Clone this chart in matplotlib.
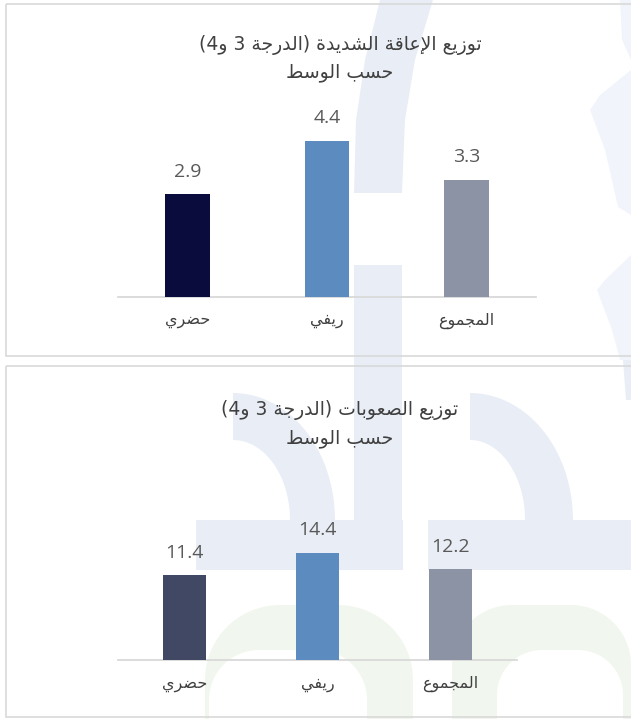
import numpy as np
import matplotlib
matplotlib.use("Agg")
import matplotlib.pyplot as plt
from matplotlib.patches import Polygon, Rectangle

plt.rcParams.update({"font.family": ["DejaVu Sans"]})

# ---- data ----
categories = ["حضري", "ريفي", "المجموع"]
severe_vals = [2.9, 4.4, 3.3]
difficulty_vals = [11.4, 14.4, 12.2]
title_severe = ["توزيع الإعاقة الشديدة (الدرجة 3 و4)", "حسب الوسط"]
title_difficulty = ["توزيع الصعوبات (الدرجة 3 و4)", "حسب الوسط"]

colors_top = ["#0B0C3E", "#5B8BBF", "#8B93A4"]
colors_bot = ["#404863", "#5B8BBF", "#8B93A4"]

W, H = 631, 719

# ---- minimal Arabic shaping (presentation forms) + RTL ordering ----
# letter -> (isolated form code, dual joining?)
AR = {
    "ا": (0xFE8D, False), "إ": (0xFE87, False), "ب": (0xFE8F, True),
    "ة": (0xFE93, False), "ت": (0xFE95, True), "ج": (0xFE9D, True),
    "ح": (0xFEA1, True), "د": (0xFEA9, False), "ر": (0xFEAD, False),
    "ز": (0xFEAF, False), "س": (0xFEB1, True), "ش": (0xFEB5, True),
    "ص": (0xFEB9, True), "ض": (0xFEBD, True), "ط": (0xFEC1, True),
    "ع": (0xFEC9, True), "ف": (0xFED1, True), "ق": (0xFED5, True),
    "ل": (0xFEDD, True), "م": (0xFEE1, True), "و": (0xFEED, False),
    "ي": (0xFEF1, True),
}
LAMALEF = {"ا": 0xFEFB, "إ": 0xFEF9}


def shape(text):
    toks = []
    i = 0
    while i < len(text):
        c = text[i]
        if c == "ل" and i + 1 < len(text) and text[i + 1] in LAMALEF:
            toks.append(("LA", LAMALEF[text[i + 1]]))
            i += 2
        else:
            toks.append((c, None))
            i += 1

    def info(t):
        if t[0] == "LA":
            return (t[1], False)
        return AR.get(t[0])

    out = []
    for k, t in enumerate(toks):
        inf = info(t)
        if inf is None:
            out.append(t[0])
            continue
        base, dual = inf
        prev = info(toks[k - 1]) if k > 0 else None
        nxt = info(toks[k + 1]) if k + 1 < len(toks) else None
        jp = prev is not None and prev[1]
        jn = dual and nxt is not None
        if jp and jn:
            code = base + 3
        elif jp:
            code = base + 1
        elif jn:
            code = base + 2
        else:
            code = base
        out.append(chr(code))

    # visual order: reverse, keep digit runs left-to-right, mirror parens
    runs, cur, isdig = [], "", None
    for ch in out:
        d = ch.isdigit() or (ch == "." and isdig)
        if isdig is None or d == isdig:
            cur += ch
        else:
            runs.append((cur, isdig))
            cur = ch
        isdig = d
    runs.append((cur, isdig))
    mirror = {"(": ")", ")": "("}
    vis = ""
    for r, d in reversed(runs):
        vis += r if d else "".join(mirror.get(c, c) for c in reversed(r))
    return vis


fig = plt.figure(figsize=(W / 100, H / 100), dpi=100)

# ---- background watermark (pixel coords) ----
bg = fig.add_axes([0, 0, 1, 1])
bg.set_xlim(0, W)
bg.set_ylim(H, 0)
bg.axis("off")
blue = "#E9EEF6"
blue2 = "#F1F5FB"
green = "#F1F7EE"


def qring(cx, cy, ao, bo, ai, bi):
    t = np.linspace(-np.pi / 2, 0, 40)
    outer = np.c_[cx + ao * np.cos(t), cy + bo * np.sin(t)]
    inner = np.c_[cx + ai * np.cos(t[::-1]), cy + bi * np.sin(t[::-1])]
    return np.vstack([outer, inner])


def arch(x0, x1, top, bottom, r):
    t = np.linspace(np.pi, 1.5 * np.pi, 30)
    left = np.c_[x0 + r + r * np.cos(t), top + r + r * np.sin(t)]
    t2 = np.linspace(1.5 * np.pi, 2 * np.pi, 30)
    right = np.c_[x1 - r + r * np.cos(t2), top + r + r * np.sin(t2)]
    return np.vstack([[x0, bottom], left, right, [x1, bottom]])


shapes = [
    (np.array([[380, 0], [433, 0], [415, 60], [405, 120], [402, 193],
               [354, 193], [356, 120], [365, 60]]), blue),
    (np.array([[354, 265], [402, 265], [402, 570], [354, 570]]), blue),
    (np.array([[196, 520], [403, 520], [403, 570], [196, 570]]), blue),
    (np.array([[428, 520], [631, 520], [631, 570], [428, 570]]), blue),
    (qring(233, 520, 102, 127, 57, 80), blue),
    (qring(470, 520, 103, 127, 55, 80), blue),
    (np.array([[623, 360], [631, 340], [631, 400], [626, 400]]), blue),
    (np.array([[631, 70], [600, 95], [590, 110], [605, 150], [618, 207],
               [631, 215]]), blue2),
    (np.array([[631, 255], [605, 280], [597, 290], [612, 330], [620, 360],
               [631, 360]]), blue2),
    (np.array([[620, 0], [631, 0], [631, 60], [622, 40]]), blue2),
    (arch(205, 413, 605, 719, 75), green),
    (arch(452, 631, 605, 719, 60), green),
]
for pts, col in shapes:
    bg.add_patch(Polygon(pts, closed=True, fc=col, ec="none", zorder=1))
# holes of the green arches
bg.add_patch(Polygon(arch(209, 367, 650, 719, 50), closed=True, fc="white",
                     ec="none", zorder=2))
bg.add_patch(Polygon(arch(497, 623, 650, 719, 45), closed=True, fc="white",
                     ec="none", zorder=2))

# panel frames
for y0, y1 in [(4, 356), (366, 717)]:
    bg.add_patch(Rectangle((6, y0), 700, y1 - y0, fc="none", ec="#D9D9D9",
                           lw=1.2, zorder=3))


def panel(vals, colors, title, x_left, x_right, base_y, px_per_unit,
          title_y, cat_y):
    h_px = 250
    ax = fig.add_axes([x_left / W, 1 - base_y / H, (x_right - x_left) / W,
                       h_px / H])
    ax.patch.set_alpha(0)
    x = np.arange(len(vals))
    ax.bar(x, vals, width=0.32, color=colors, zorder=3)
    ax.set_xlim(-0.5, 2.5)
    ax.set_ylim(0, h_px / px_per_unit)
    for s in ["top", "right", "left"]:
        ax.spines[s].set_visible(False)
    ax.spines["bottom"].set_color("#D9D9D9")
    ax.spines["bottom"].set_linewidth(1.3)
    ax.set_yticks([])
    ax.set_xticks([])
    for xi, v in zip(x, vals):
        ax.annotate(f"{v:.1f}", (xi, v), xytext=(0, 12.5),
                    textcoords="offset points", ha="center", va="baseline",
                    fontsize=14, color="#595959", family="Open Sans")
    for xi, c in zip(x, categories):
        px = ax.transData.transform((xi, 0))[0]
        fig.text(px / W, 1 - cat_y / H, shape(c), ha="center", va="center",
                 fontsize=11.5, color="#404040")
    for k, line in enumerate(title):
        fig.text(340 / W, 1 - title_y[k] / H, shape(line), ha="center",
                 va="center", fontsize=13.5, color="#404040")
    return ax


panel(severe_vals, colors_top, title_severe, 118, 536, 297, 35.5,
      [45, 73], 321)
panel(difficulty_vals, colors_bot, title_difficulty, 118, 517, 660, 7.46,
      [410, 438], 684)

fig.savefig("out.png", dpi=100)
